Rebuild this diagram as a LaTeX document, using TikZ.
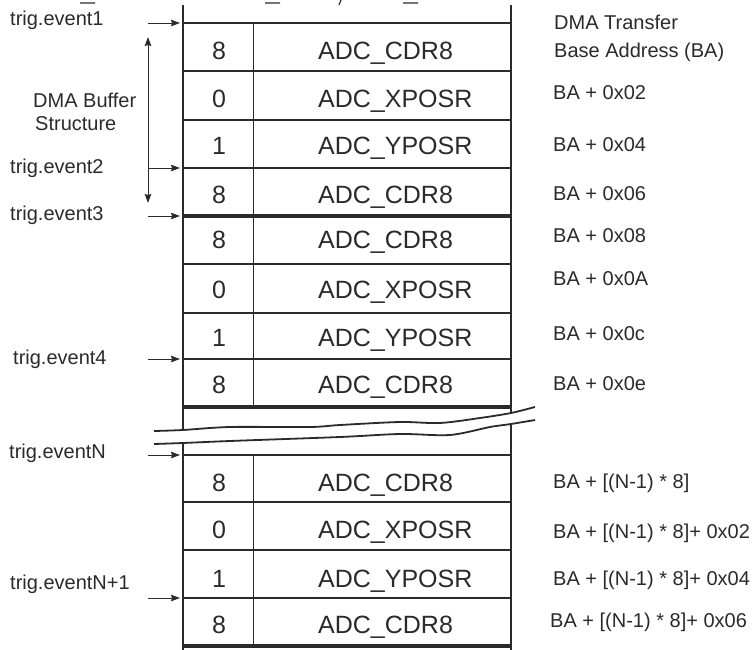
\documentclass[tikz,border=0pt]{standalone}
\usepackage{fontspec}
\setmainfont{Liberation Sans}
\usetikzlibrary{arrows.meta,positioning,calc}
\definecolor{ink}{HTML}{2A2A2A}

\begin{document}
\begin{tikzpicture}[x=1pt,y=-1pt,
   >={Stealth[length=9pt,width=6.5pt,inset=1pt]},
   lbl/.style={anchor=base west,inner sep=0pt,text=ink,font=\fontsize{20}{23}\selectfont},
   num/.style={anchor=base,inner sep=0pt,text=ink,font=\fontsize{25}{29}\selectfont},
   reg/.style={num,anchor=base west},
   trig/.style={draw=ink,line width=0.9pt,->,shorten >=2pt},
   rowline/.style={draw=ink,line width=1.3pt},
   sepline/.style={draw=ink,line width=4pt},
   wall/.style={draw=ink,line width=2.5pt},
   wave/.style={draw=ink,line width=1.8pt}]
  \useasboundingbox (0,0) rectangle (755,650);

  % table grid
  \foreach \y in {23,71,120,168,264,313,359,455,502,550,598}
    \draw[rowline] (183,\y) -- (511,\y);
  \foreach \y in {216,407,646}
    \draw[sepline] (183,\y) -- (511,\y);
  \draw[ink,line width=1pt] (253,23) -- (253,407) (253,455) -- (253,646);
  \draw[wall] (183,5) -- (183,650) (511,5) -- (511,650);

  % break in the buffer
  \fill[white] plot[smooth] coordinates {(150,431) (183,430) (230,427) (310,427) (340,425)
        (400,422) (440,423) (480,418) (511,413) (540,405)}
    -- plot[smooth] coordinates {(540,418) (511,424) (490,427) (450,435) (400,434)
        (340,437) (230,441) (183,443) (150,444)} -- cycle;
  \draw[wave] plot[smooth] coordinates {(154,431) (183,430) (230,427) (310,427) (340,425)
        (400,422) (440,423) (480,418) (511,413) (535,407)};
  \draw[wave] plot[smooth] coordinates {(154,444) (183,443) (230,441) (340,437) (400,434)
        (450,435) (490,427) (511,424) (535,420)};

  % cell contents
  \foreach \v/\r/\b [count=\i] in {8/CDR8/60,0/XPOSR/108,1/YPOSR/155,8/CDR8/203,
      8/CDR8/248,0/XPOSR/298,1/YPOSR/346,8/CDR8/393,
      8/CDR8/491,0/XPOSR/538,1/YPOSR/587,8/CDR8/633}{
    \node[num] (idx\i) at (219,\b) {\v};
    \node[reg] (reg\i) at (318,\b) {ADC\_\r};
  }

  % trigger events
  \foreach \n/\t/\x/\b/\y in {1/trig.event1/10/26/23,2/trig.event2/10/173/168,
      3/trig.event3/10/220/216,4/trig.event4/13/364/359,
      N/trig.eventN/9/458/455,N1/trig.eventN+1/10/589/598}{
    \node[lbl] (ev\n) at (\x,\b) {\t};
    \coordinate (src\n) at (148,\y);
    \coordinate (in\n) at (182,\y);
    \draw[trig] (src\n) -- (in\n);
  }

  % buffer span
  \node[lbl] (buf) at (33,108) {DMA Buffer};
  \node[lbl] (str) at (35,131) {Structure};
  \coordinate (buftop) at (148,37);
  \coordinate (bufbot) at (148,203);
  \draw[trig,<->,shorten >=0pt] (buftop) -- (bufbot);

  % addresses
  \node[lbl] (ba0) at (554,30) {DMA Transfer};
  \node[lbl] (ba0b) at (554,58) {Base Address (BA)};
  \foreach \a/\b [count=\i] in {02/100,04/152,06/200,08/242,0A/285,0c/340,0e/390}
    \node[lbl] (ba\i) at (553,\b) {BA + 0x\a};
  \node[lbl] (bn0) at (553,488) {BA + [(N-1) * 8]};
  \node[lbl] (bn1) at (553,538) {BA + [(N-1) * 8]+ 0x02};
  \node[lbl] (bn2) at (553,585) {BA + [(N-1) * 8]+ 0x04};
  \node[lbl] (bn3) at (550,627) {BA + [(N-1) * 8]+ 0x06};

  % cut-off text at the top edge
  \draw[ink,line width=1.2pt] (80,3) -- (95,3) (265,3) -- (280,3) (403,3) -- (418,3)
    (341,0) -- (339,5);
\end{tikzpicture}
\end{document}
